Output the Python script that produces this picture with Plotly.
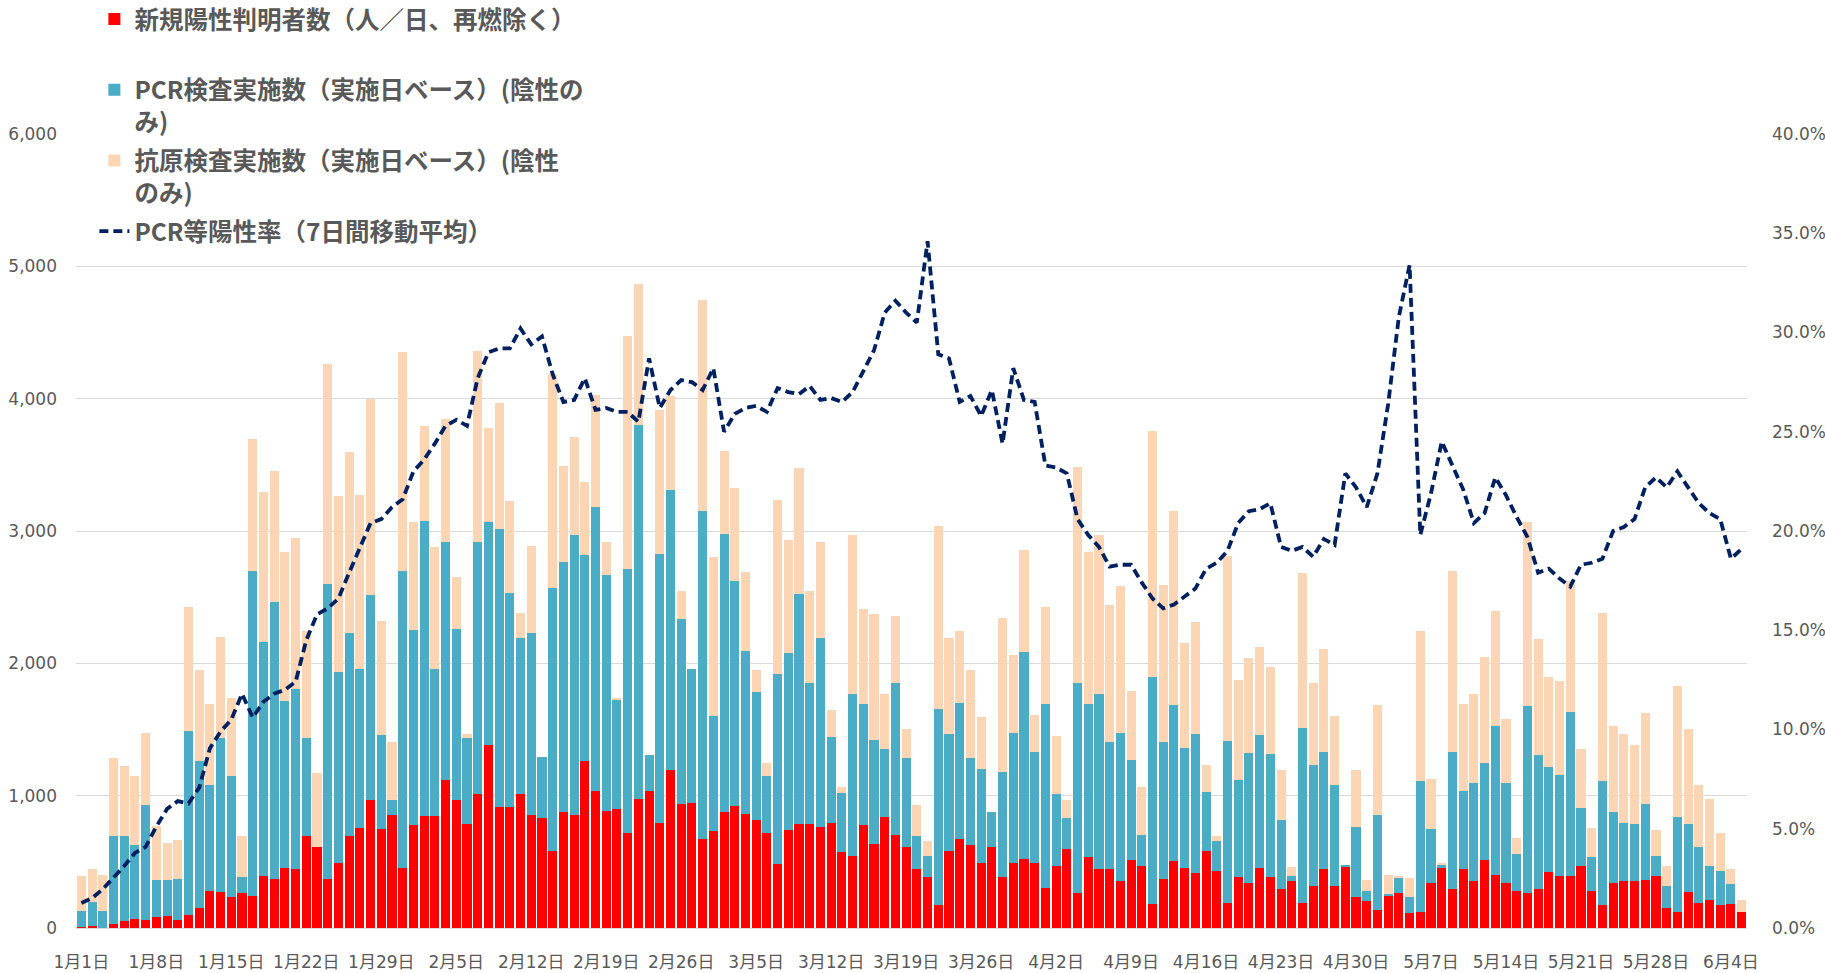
import pandas as pd
import plotly.graph_objects as go

# ---- data ----
start_date = "2022-01-01"
n_days = 156

new_positive = [
    5, 15, 0, 33, 51, 69, 58, 84, 91, 58, 102, 149, 283, 272, 232, 261, 240, 396, 374, 454, 443, 694, 614, 374, 494, 694,
    759, 969, 748, 857, 454, 777, 846, 846, 1122, 969, 788, 1009, 1383, 911, 911, 1009, 857, 835, 585, 875, 857, 1260, 1038, 886, 897, 719,
    977, 1038, 795, 1191, 940, 948, 675, 730, 875, 919, 864, 817, 715, 483, 737, 784, 784, 766, 795, 574, 545, 777, 635, 839, 704, 614,
    443, 385, 174, 585, 675, 625, 494, 614, 385, 494, 523, 494, 301, 465, 595, 261, 534, 443, 443, 352, 512, 472, 182, 374, 505, 454,
    414, 585, 432, 192, 385, 341, 454, 385, 294, 352, 192, 320, 443, 320, 465, 232, 203, 138, 243, 261, 113, 120, 341, 454, 294, 443,
    352, 512, 403, 341, 283, 265, 294, 425, 392, 392, 472, 283, 171, 341, 352, 352, 363, 392, 149, 120, 272, 192, 211, 171, 182, 120,
]

pcr_negative = [
    126, 181, 131, 661, 643, 559, 872, 279, 272, 316, 1383, 1111, 795, 1162, 919, 124, 2458, 1764, 2092, 1264, 1362, 740, 0, 2229, 1438, 1539,
    1198, 1544, 708, 109, 2244, 1474, 2233, 1111, 1794, 1290, 650, 1907, 1685, 2106, 1620, 1184, 1376, 454, 1982, 1892, 2113, 1558, 2143, 1783, 831, 1993,
    2821, 266, 2030, 2121, 1395, 1009, 2477, 875, 2102, 1706, 1228, 969, 432, 1438, 1344, 1740, 1064, 1427, 647, 446, 1220, 919, 788, 512, 1144, 668,
    251, 160, 1482, 878, 1028, 657, 708, 261, 795, 980, 1565, 839, 1395, 544, 233, 1587, 1162, 1322, 959, 1122, 759, 232, 1713, 1028, 1180, 908,
    1049, 446, 222, 1220, 737, 984, 1002, 929, 523, 40, 1322, 911, 890, 758, 7, 534, 80, 719, 11, 124, 119, 991, 407, 22, 1039, 595,
    741, 737, 1122, 752, 280, 1413, 1010, 788, 766, 1242, 436, 251, 940, 534, 443, 432, 574, 153, 171, 719, 512, 422, 261, 261, 148, 0,
]

antigen_negative = [
    261, 247, 272, 588, 533, 523, 544, 407, 280, 290, 937, 690, 618, 766, 585, 312, 998, 1133, 987, 1121, 1143, 814, 555, 1660, 1336, 1362,
    1315, 1481, 864, 436, 1652, 817, 715, 919, 933, 395, 25, 1445, 708, 952, 697, 189, 650, 0, 1623, 726, 737, 552, 849, 247, 11, 1761,
    1071, 0, 1086, 711, 211, 0, 1594, 1195, 629, 697, 598, 164, 102, 1311, 849, 951, 698, 723, 207, 48, 1202, 715, 948, 414, 512, 221,
    232, 116, 1383, 727, 545, 664, 392, 0, 1162, 592, 770, 279, 726, 443, 138, 1634, 1143, 1202, 1042, 1108, 523, 364, 1863, 1191, 1467, 788,
    846, 200, 40, 1402, 755, 716, 665, 661, 374, 69, 1169, 617, 777, 527, 0, 425, 80, 828, 149, 7, 149, 1137, 381, 18, 1361, 658,
    672, 799, 868, 483, 120, 1390, 878, 686, 708, 988, 443, 221, 1271, 650, 668, 596, 686, 192, 145, 991, 719, 464, 505, 283, 113, 91,
]

positivity_pct = [
    1.26, 1.50, 1.96, 2.52, 3.12, 3.78, 4.09, 5.11, 6.00, 6.39, 6.27, 7.07, 9.05, 9.90, 10.5, 11.8, 10.6, 11.4, 11.8, 12.0, 12.4, 14.5, 15.8, 16.1, 16.6, 17.9,
    19.2, 20.4, 20.6, 21.2, 21.6, 23.0, 23.6, 24.4, 25.3, 25.6, 25.3, 27.7, 29.0, 29.2, 29.2, 30.2, 29.4, 29.8, 27.9, 26.5, 26.6, 27.7, 26.1, 26.2, 26.0, 26.0,
    25.5, 28.7, 26.2, 27.1, 27.6, 27.5, 27.1, 28.2, 25.0, 25.9, 26.2, 26.3, 26.0, 27.2, 27.0, 26.9, 27.3, 26.6, 26.7, 26.5, 27.0, 28.1, 29.1, 31.0, 31.6, 31.0,
    30.5, 34.6, 28.9, 28.7, 26.5, 26.8, 25.8, 27.1, 24.4, 28.2, 26.6, 26.5, 23.3, 23.2, 22.9, 20.6, 19.8, 19.2, 18.2, 18.3, 18.3, 17.4, 16.6, 16.1, 16.3, 16.7,
    17.1, 18.1, 18.4, 19.0, 20.4, 21.0, 21.1, 21.4, 19.2, 19.0, 19.2, 18.7, 19.6, 19.3, 22.9, 22.2, 21.2, 22.9, 26.4, 30.8, 33.4, 19.8, 21.9, 24.5, 23.3, 22.1,
    20.4, 20.9, 22.7, 21.8, 20.7, 19.7, 17.9, 18.1, 17.6, 17.2, 18.3, 18.4, 18.6, 20.0, 20.2, 20.6, 22.2, 22.7, 22.2, 23.0, 22.2, 21.4, 20.9, 20.6, 18.6, 19.1,
]

dates = pd.date_range(start_date, periods=n_days, freq="D")
categories = [f"{d.month}月{d.day}日" for d in dates]
tick_labels = categories[::7]

names = [
    "新規陽性判明者数（人／日、再燃除く）<br> ",
    "PCR検査実施数（実施日ベース）(陰性の<br>み)",
    "抗原検査実施数（実施日ベース）(陰性<br>のみ)",
    "PCR等陽性率（7日間移動平均）<br> ",
]
colors = ["#FF0000", "#4BACC6", "#FCD5B5", "#002060"]

# ---- figure ----
fig = go.Figure()
for i, (vals, name, col) in enumerate(zip([new_positive, pcr_negative, antigen_negative], names[:3], colors[:3])):
    fig.add_trace(go.Bar(x=categories, y=vals, name=name, legendgroup=f"g{i}",
                         marker=dict(color=col, line=dict(width=0))))

fig.add_trace(go.Scatter(
    x=categories, y=[v / 100 for v in positivity_pct], name=names[3], yaxis="y2", legendgroup="g3",
    mode="lines", line=dict(color=colors[3], width=3.8, dash="9px,5px"),
))

tick_font = dict(family="DejaVu Sans, Noto Sans CJK JP", size=17, color="#595959")

fig.update_layout(
    width=1825, height=973,
    margin=dict(l=76, r=78, t=134, b=45, autoexpand=False),
    paper_bgcolor="white", plot_bgcolor="white",
    barmode="stack", bargap=0.15,
    showlegend=True,
    legend=dict(
        x=0.011, xanchor="left", y=1.173, yanchor="top",
        bgcolor="rgba(0,0,0,0)", valign="top", traceorder="grouped", tracegroupgap=4,
        font=dict(family="Noto Sans CJK JP", size=24.5, color="#595959", weight="bold"),
    ),
    xaxis=dict(
        type="category", categoryorder="array", categoryarray=categories,
        tickmode="array", tickvals=tick_labels, ticktext=tick_labels,
        tickangle=0, tickfont=tick_font, showgrid=False, ticks="outside", ticklen=0,
        ticklabelstandoff=19, showline=True, linecolor="#D9D9D9", linewidth=1,
        range=[-0.5, n_days - 0.5], automargin=False,
    ),
    yaxis=dict(
        range=[0, 6000], dtick=1000, tickformat=",", tickfont=tick_font,
        showgrid=True, gridcolor="#D9D9D9", gridwidth=1, zeroline=False,
        ticks="", ticklabelstandoff=18, automargin=False,
    ),
    yaxis2=dict(
        overlaying="y", side="right", range=[0, 0.4], dtick=0.05, tickformat=".1%",
        tickfont=tick_font, showgrid=False, zeroline=False, ticks="", ticklabelstandoff=24,
        automargin=False,
    ),
)

fig.write_html(
    "out.html",
    config={"displayModeBar": False},
    post_script="document.body.style.margin='0';",
)
